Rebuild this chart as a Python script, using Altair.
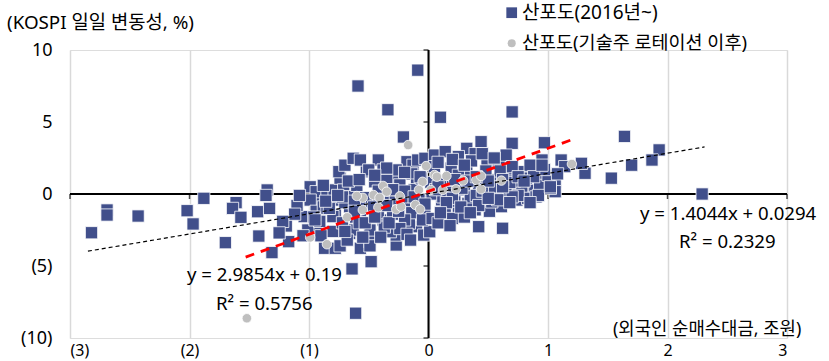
import altair as alt
import pandas as pd

# ---- data ----
sq_x = [-0.09, -0.59, -0.34, 0.10, 0.70, -0.21, 1.64, 1.93, 1.87, 1.70, 1.53, 1.31, 1.28, 2.29, -0.61, -0.64, -0.48, 0.44, 0.70, 0.97,
        -2.82, -2.69, -2.69, -2.43, -2.02, -1.97, -1.88, -1.70, -1.61, -1.64, -1.57, -1.42, -1.43, -1.35, -1.36, -1.33, -1.31, -1.19, -1.17,
        -1.04, -0.94, -0.99, -0.94, -0.85, -0.99, -0.94, -0.78, -0.79, -0.74, -0.75, -0.70, -0.63, -0.71, -0.66, -0.66, -0.78, -0.80, -0.80,
        -0.94, -1.01, -0.87, -0.78, -0.74, -0.66, -0.63, -0.57, -0.49, -0.49, -0.49, -0.27, -0.27, -0.32, -0.10, -0.04, 0.01, -0.16, -0.38,
        -0.49, -0.57, -0.52, -0.42, -0.57, -0.50, -0.38, -0.32, -0.27, -0.18, -0.13, -0.14, -0.09, -0.03, -0.27, -0.24, -0.10, -0.29, -0.20,
        -0.05, -0.46, -0.38, -0.52, -0.30, -0.14, -0.03, -0.42, -0.61, -0.20, -0.05, -0.37, -0.58, -0.24, -0.54, -0.60, -0.45, -0.35, -0.15,
        -0.08,
        0.05, 0.14, 0.32, 0.39, 0.25, 0.49, 0.59, 0.65, 0.86, 0.78, 0.95, 1.11, 1.14, 0.95, 1.06, 1.06, 0.80, 0.69, 0.53, 0.32, 0.19, 0.05,
        0.36, 0.89, 0.78, 0.65, 0.74, 0.83, 0.61, 0.42, 0.62, 0.51, 0.39, 0.25, 0.14, 0.03, 0.33, 0.53, 0.22, 0.11, 0.03, 0.18, 0.30, 0.42,
        0.55, 0.65, 0.72, 0.48, 0.25, 0.10, 0.93, 1.00, 0.85, 0.70, 0.60, 0.35, 0.45, 0.20, 0.08, 0.30, 0.15, 0.57,
        -1.10, -1.05, -1.12, -1.08, -1.22, -1.25, -0.91, -0.88, -0.70, -0.60, -0.42, -0.35, -0.22, -0.12, 0.02, 0.12, 0.28, 0.40, 0.55,
        0.68, 0.82, 0.97, 1.02, 0.90, 0.75, 0.58, 0.45, 0.33, 0.20, 0.06, -0.06, -0.20, -0.33, -0.46, -0.58, -0.72, -0.85, -0.96,
        -0.95, -0.90, -0.83, -0.72, -0.68, -0.62, -0.86, -0.76, -0.67, -0.58, -0.88, -0.62, -0.70, -0.55, -0.53,
        -0.45, -0.33, -0.25, -0.18, -0.12, -0.30, -0.42, -0.20, -0.07, -0.35, -0.45, -0.03, -0.15, -0.40,
        0.08, 0.20, 0.30, 0.45, 0.55, 0.40, 0.50, 0.15, 0.27, 0.42, 0.50, 0.08, 0.22, 0.10, 0.35, 0.18,
        0.62, 0.75, 0.88, 0.92, 0.70, 0.80, 1.02, 0.62, 0.85, 0.95, 0.68, 1.08]
sq_y = [8.60, 7.50, 5.85, 5.33, 5.70, 3.96, 4.00, 3.06, 2.36, 2.00, 1.10, 1.44, 2.13, 0.00, -8.28, -5.20, -4.70, 3.63, 3.52, 3.56,
        -2.69, -1.11, -1.46, -1.53, -1.16, -2.08, -0.30, -3.38, -0.60, -1.00, -1.62, -2.92, -1.23, 0.28, -0.10, -1.00, -4.07, -2.22, -3.31,
        -1.57, -0.42, 0.50, 0.16, 0.05, -0.42, -1.20, -0.42, 0.28, 1.10, 1.55, 2.00, 2.48, 0.28, -0.18, -0.88, -1.46, -1.57, -2.60,
        -2.27, -2.50, -3.77, -3.77, -3.60, -2.74, -2.50, -3.77, -2.62, -3.31, -3.60, -3.54, -2.85, -2.62, -2.27, -2.85, -2.62, -2.02, -1.81,
        -2.50, -1.20, 1.55, 2.36, 2.36, 1.67, 1.67, 1.20, 1.10, 2.24, 2.00, 1.40, 2.36, 2.48, 1.67, 0.63, 0.62, -0.35, -0.60,
        -0.50, -0.50, -0.45, -0.70, -1.40, -1.30, -1.10, -1.30, -1.60, -1.80, -1.80, -2.30, -2.00, -2.40, -0.25, 0.60, 0.85, 0.95, 0.05,
        -0.40,
        2.70, 2.94, 3.17, 2.80, 2.60, 2.24, 2.13, 2.70, 1.55, 1.55, 2.36, 2.36, 1.90, 1.00, 0.85, 0.16, 0.16, 0.28, 0.28, 1.50, 1.80, 1.90,
        2.30, 0.28, 0.50, 0.16, -0.42, -0.30, -0.88, -2.27, -2.38, -1.20, -1.10, -1.20, -0.98, -1.70, -0.65, -0.55, -0.50, -0.40, 0.00, 0.55, 0.30, 0.60,
        1.00, 1.30, 0.90, 1.60, 1.30, 0.90, 0.60, 1.30, 2.00, 1.90, 1.60, -0.20, -0.30, -1.70, -2.00, -1.60, 0.10, -0.10,
        -0.80, -2.90, -1.40, -0.10, -1.90, -2.70, -1.90, -0.90, -0.60, -1.00, -0.10, -0.80, -0.20, 0.30, 0.80, -0.20, 0.40, -0.10, 0.50,
        0.80, 1.10, 1.70, 0.40, -0.20, -0.10, -0.40, 0.20, 0.90, -0.30, 0.30, 1.10, 0.20, 0.30, -0.90, -0.70, -0.20, -1.00, -1.60,
        -1.80, -2.90, -1.00, -2.00, -3.20, -0.50, -0.50, -0.10, 0.90, 1.00, 0.60, -1.20, -2.60, -3.00, -2.00,
        -1.60, -2.00, -1.20, -2.80, -0.20, 0.30, 0.20, 1.50, 1.20, 1.80, 1.30, -0.70, -3.20, -3.00,
        2.20, 2.40, 2.00, 2.80, 2.50, 1.20, 0.90, -0.60, -0.90, -0.80, -0.30, 0.50, 1.00, -1.30, -1.30, -2.20,
        1.00, 1.20, 1.20, -0.10, -0.20, 0.90, 0.50, 0.50, -0.60, 2.00, -0.60, 1.40]

ci_x = [-0.17, -1.52, -0.99, -0.85, 1.20, -0.02, 0.05, 0.07, 0.15, -0.05, -0.08, 0.02, 0.12, 0.23, 0.29, 0.40, 0.44, 0.44, 0.61,
        -0.38, -0.35, -0.46, -0.55, -0.60, -0.41, -0.24, -0.55, -0.42, -0.27, -0.11, -0.07, -0.68, -0.23]
ci_y = [3.40, -8.63, -3.02, -3.49, 2.08, 1.94, 1.32, 1.20, 1.25, 0.85, 0.28, 0.28, 0.28, 0.33, 0.93, 0.97, 1.25, 0.33, 0.93,
        0.56, 0.16, -0.07, -0.26, -0.14, -0.26, -0.16, -1.11, -0.93, -1.06, -0.76, -1.06, -1.62, -0.88]

fit_all_x = [-2.85, 2.31]
fit_all_y = [-3.97, 3.27]
fit_new_x = [-1.53, 1.23]
fit_new_y = [-4.38, 3.86]

x_ticks = [-3, -2, -1, 0, 1, 2, 3]
y_ticks = [-10, -5, 0, 5, 10]

FONT = "Noto Sans, Noto Sans CJK KR"
NAVY = "#414F8B"
GREY = "#BFBFBF"

xs = alt.Scale(domain=[-3, 3], nice=False, zero=False)
ys = alt.Scale(domain=[-10, 10], nice=False, zero=False)

lab = "datum.value < 0 ? '(' + format(-datum.value, 'd') + ')' : format(datum.value, 'd')"
xaxis = alt.Axis(values=x_ticks, grid=True, gridColor="#D9D9D9", gridWidth=1.5, domain=False, ticks=False,
                 labelExpr=lab, labelPadding=4, labelFontSize=16, labelFont=FONT, labelColor="black", title=None)
yaxis = alt.Axis(values=y_ticks, grid=False, domain=False, ticks=False,
                 labelExpr="datum.value < 0 ? '(' + format(-datum.value, 'd') + ')' : format(datum.value, 'd') + '\u2009'",
                 labelPadding=18, labelFontSize=18, labelFont=FONT, labelColor="black", title=None)

sq = pd.DataFrame({"x": sq_x, "y": sq_y})
ci = pd.DataFrame({"x": ci_x, "y": ci_y})

grid = alt.Chart(pd.DataFrame({"x": x_ticks})).mark_rule(opacity=0).encode(
    x=alt.X("x:Q", scale=xs, axis=xaxis), y=alt.value(0))
yax_ch = alt.Chart(pd.DataFrame({"y": y_ticks})).mark_rule(opacity=0).encode(
    y=alt.Y("y:Q", scale=ys, axis=yaxis), x=alt.value(0))

hline = alt.Chart(pd.DataFrame({"a": [x_ticks[0]], "b": [x_ticks[-1]], "y": [0]})).mark_rule(
    color="black", strokeWidth=2).encode(x=alt.X("a:Q", scale=xs), x2="b:Q", y=alt.Y("y:Q", scale=ys))
vline = alt.Chart(pd.DataFrame({"a": [y_ticks[0]], "b": [y_ticks[-1]], "x": [0]})).mark_rule(
    color="black", strokeWidth=2).encode(y=alt.Y("a:Q", scale=ys), y2="b:Q", x=alt.X("x:Q", scale=xs))
xtk = alt.Chart(pd.DataFrame({"x": x_ticks, "y": [0] * len(x_ticks)})).mark_tick(
    color="black", orient="vertical", size=5, thickness=1.5, yOffset=2.5).encode(
    x=alt.X("x:Q", scale=xs), y=alt.Y("y:Q", scale=ys))
ytk = alt.Chart(pd.DataFrame({"y": y_ticks, "x": [0] * len(y_ticks)})).mark_tick(
    color="black", orient="horizontal", size=5, thickness=1.5, xOffset=-2.5).encode(
    x=alt.X("x:Q", scale=xs), y=alt.Y("y:Q", scale=ys))

squares = alt.Chart(sq).mark_square(size=150, color=NAVY, opacity=1, stroke="white", strokeWidth=0.8).encode(
    x=alt.X("x:Q", scale=xs), y=alt.Y("y:Q", scale=ys))
circles = alt.Chart(ci).mark_circle(size=90, color=GREY, opacity=1, stroke="white", strokeWidth=0.8).encode(
    x=alt.X("x:Q", scale=xs), y=alt.Y("y:Q", scale=ys))

fit1 = alt.Chart(pd.DataFrame({"x": fit_all_x, "y": fit_all_y})).mark_line(
    color="black", strokeWidth=1.2, strokeDash=[4, 3]).encode(x=alt.X("x:Q", scale=xs), y=alt.Y("y:Q", scale=ys))
fit2 = alt.Chart(pd.DataFrame({"x": fit_new_x, "y": fit_new_y})).mark_line(
    color="#FF0000", strokeWidth=2.8, strokeDash=[9, 7]).encode(x=alt.X("x:Q", scale=xs), y=alt.Y("y:Q", scale=ys))


def label(text, px, py, size=15, align="left"):
    return alt.Chart(pd.DataFrame({"t": [text]})).mark_text(
        font=FONT, fontSize=size, color="black", align=align, baseline="middle").encode(
        x=alt.value(px), y=alt.value(py), text="t:N")


def sym(shape, color, px, py, size):
    return alt.Chart(pd.DataFrame({"t": [0]})).mark_point(
        shape=shape, filled=True, color=color, opacity=1, size=size).encode(x=alt.value(px), y=alt.value(py))


texts = [
    label("(KOSPI 일일 변동성, %)", -63, -27, 18.8),
    label("(외국인 순매수대금, 조원)", 543, 280, 17.8),
    label("y = 1.4044x + 0.0294", 570, 163.5, 18.6),
    label("R\u00b2  = 0.2329", 609, 192, 18.6),
    label("y = 2.9854x + 0.19", 117, 225, 18.6),
    label("R\u00b2  = 0.5756", 146, 253.5, 18.6),
    label("산포도(2016년~)", 452, -37, 19),
    label("산포도(기술주 로테이션 이후)", 452, -7, 18.5),
    sym("square", NAVY, 441.7, -37.3, 115),
    sym("circle", GREY, 441.7, -6.7, 65),
]

chart = alt.layer(grid, yax_ch, hline, vline, xtk, ytk, squares, circles, fit1, fit2, *texts).properties(
    width=717, height=288,
    padding={"left": 70, "top": 50, "right": 42, "bottom": 23},
    autosize=alt.AutoSizeParams(type="none"),
).configure_view(stroke=None).configure(background="white")

chart.save("out.html", embed_options={"renderer": "svg", "actions": False})
